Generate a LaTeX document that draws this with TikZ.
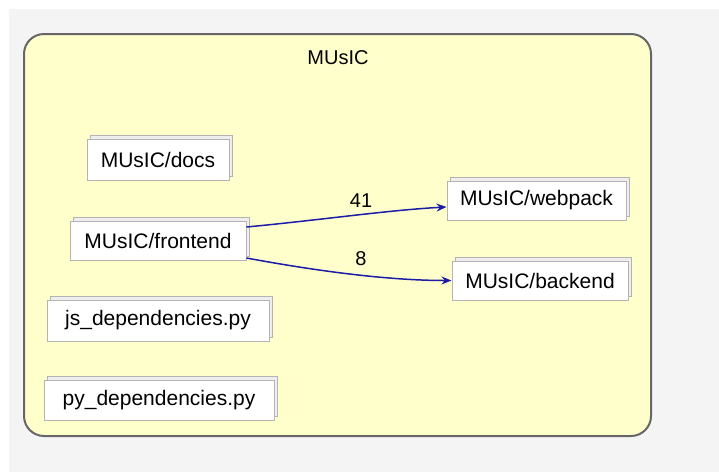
\documentclass[tikz,border=0pt]{standalone}
\usepackage{fontspec}
\setmainfont{Liberation Sans}
\usetikzlibrary{arrows.meta,shadows}
\definecolor{pagegray}{HTML}{F4F4F4}
\definecolor{clusterfill}{HTML}{FFFFCC}
\definecolor{clusterline}{HTML}{666666}
\definecolor{boxline}{HTML}{B4B4B4}
\definecolor{boxside}{HTML}{EEEEEE}
\definecolor{edgeblue}{HTML}{1C1CA8}
\tikzset{
  modbox/.style={draw=boxline, line width=1pt, fill=white, inner sep=0pt,
    font=\fontsize{21}{25}\selectfont, text=black,
    copy shadow={shadow xshift=3.5pt, shadow yshift=3.5pt, fill=boxside, draw=boxline, line width=0.9pt}},
  dep/.style={draw=edgeblue, line width=1.5pt, -{Stealth[length=10pt,width=8pt]}},
  deplabel/.style={font=\fontsize{20}{24}\selectfont, inner sep=0pt}
}
\begin{document}
\begin{tikzpicture}[x=1pt,y=-1pt]
  % page and canvas
  \useasboundingbox (0,0) rectangle (719,472);
  \fill[white] (0,0) rectangle (719,472);
  \fill[pagegray] (9,9) rectangle (719,472);
  % cluster
  \draw[fill=clusterfill, draw=clusterline, line width=2pt, rounded corners=20pt]
    (24,34) rectangle (651,436);
  \node[font=\fontsize{20}{24}\selectfont] (title) at (338,57.5) {MUsIC};
  % modules
  \node[modbox, minimum width=142pt, minimum height=41pt] (docs) at (158,159.5) {MUsIC/docs};
  \node[modbox, minimum width=176pt, minimum height=39pt] (frontend) at (158,240.5) {MUsIC/frontend};
  \node[modbox, minimum width=179pt, minimum height=39pt] (webpack) at (536.5,200.5) {MUsIC/webpack};
  \node[modbox, minimum width=176pt, minimum height=39pt] (backend) at (540,280.5) {MUsIC/backend};
  \node[modbox, minimum width=222pt, minimum height=41pt] (jsdep) at (158,320.5) {js\_dependencies.py};
  \node[modbox, minimum width=230pt, minimum height=40pt] (pydep) at (159,400) {py\_dependencies.py};
  % dependencies
  \draw[dep] ([yshift=13.5pt]frontend.east) .. controls +(74,-7) and +(-57,3) .. ([yshift=-6.5pt]webpack.west);
  \draw[dep] ([yshift=-17.5pt]frontend.east) .. controls +(54,10) and +(-72,0) .. (backend.west);
  \node[deplabel] (l41) at (361,201) {41};
  \node[deplabel] (l8) at (361,258.5) {8};
\end{tikzpicture}
\end{document}
